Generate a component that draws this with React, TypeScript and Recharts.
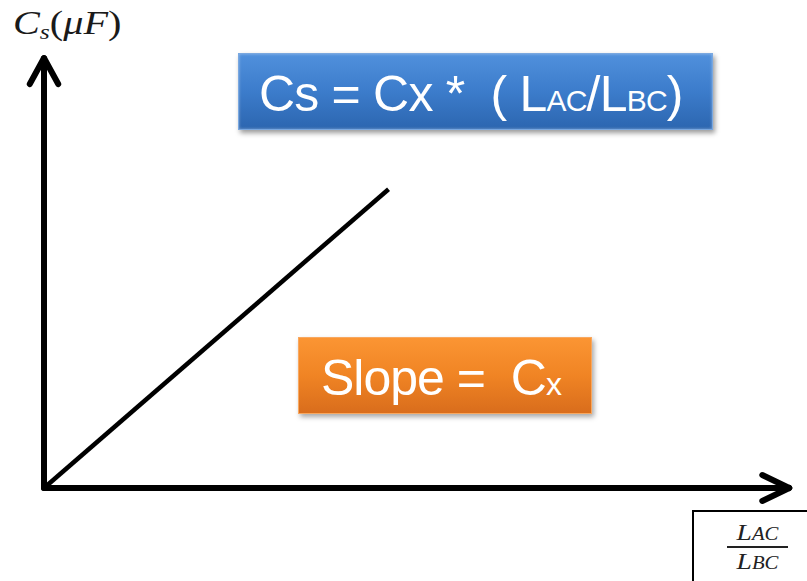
import React from 'react';
import { LineChart, Line, XAxis, YAxis, ReferenceLine } from 'recharts';

// Data: the single proportional line Cs vs L_AC/L_BC (arbitrary units, axes 0..100)
const ratioValues = [0, 46];
const capValues = [0, 69];
const xDomain: [number, number] = [0, 100];
const yDomain: [number, number] = [0, 100];
const yAxisTitle = 'C';
const formulaText = 'Cs = Cx *  ( L';
const slopeText = 'Slope =  C';

const data = ratioValues.map((r, i) => ({ r, c: capValues[i] }));

const W = 807;
const H = 581;

export default function App() {
  const axisStyle = { stroke: '#000', strokeWidth: 6, strokeLinecap: 'round' as const };
  return (
    <div style={{ position: 'absolute', left: 0, top: 0, width: W, height: H, background: '#fff', overflow: 'hidden' }}>
      <LineChart width={W} height={H} data={data} margin={{ top: 55, left: 44, right: 14, bottom: 93 }}>
        <XAxis type="number" dataKey="r" domain={xDomain} hide />
        <YAxis type="number" dataKey="c" domain={yDomain} hide />
        {/* x axis with arrow */}
        <ReferenceLine segment={[{ x: 0, y: 0 }, { x: 99.3, y: 0 }]} ifOverflow="visible" {...axisStyle} />
        <ReferenceLine segment={[{ x: 99.5, y: 0 }, { x: 95.9, y: 3.0 }]} ifOverflow="visible" {...axisStyle} />
        <ReferenceLine segment={[{ x: 99.5, y: 0 }, { x: 95.9, y: -3.0 }]} ifOverflow="visible" {...axisStyle} />
        {/* y axis with arrow */}
        <ReferenceLine segment={[{ x: 0, y: 0 }, { x: 0, y: 99 }]} ifOverflow="visible" {...axisStyle} />
        <ReferenceLine segment={[{ x: 0, y: 99.3 }, { x: -1.9, y: 93.3 }]} ifOverflow="visible" {...axisStyle} />
        <ReferenceLine segment={[{ x: 0, y: 99.3 }, { x: 1.9, y: 93.3 }]} ifOverflow="visible" {...axisStyle} />
        <Line
          type="linear"
          dataKey="c"
          stroke="#000"
          strokeWidth={4.5}
          dot={false}
          isAnimationActive={false}
        />
      </LineChart>

      {/* Y axis title */}
      <div
        style={{
          position: 'absolute',
          left: 13,
          top: 7,
          fontFamily: '"Liberation Serif", serif',
          fontSize: 33,
          lineHeight: 1,
          color: '#1a1a1a',
          whiteSpace: 'pre',
          transform: 'scaleX(1.22)',
          transformOrigin: 'left top',
        }}
      >
        <i>{yAxisTitle}</i>
        <i style={{ fontSize: 21, position: 'relative', top: 5 }}>s</i>
        (<i>μF</i>)
      </div>

      {/* Blue formula box */}
      <div
        style={{
          position: 'absolute',
          left: 238,
          top: 53,
          width: 475,
          height: 77,
          boxSizing: 'border-box',
          background: 'linear-gradient(to bottom, #5090dc 0%, #3c7ccb 50%, #2c66b0 100%)',
          border: '1px solid #7aa8e0',
          boxShadow: '2px 3px 5px rgba(0,0,0,0.4), inset 0 0 3px rgba(255,255,255,0.4)',
        }}
      >
        <div
          style={{
            position: 'absolute',
            left: 20,
            top: 15,
            fontFamily: '"Liberation Sans", Arial, sans-serif',
            fontSize: 50,
            lineHeight: 1,
            color: '#fff',
            whiteSpace: 'pre',
            letterSpacing: -0.8,
          }}
        >
          {formulaText}
          <span style={{ fontSize: 30 }}>AC</span>/L<span style={{ fontSize: 30 }}>BC</span>)
        </div>
      </div>

      {/* Orange slope box */}
      <div
        style={{
          position: 'absolute',
          left: 298,
          top: 337,
          width: 294,
          height: 77,
          boxSizing: 'border-box',
          background: 'linear-gradient(to bottom, #fb9533 0%, #f08424 50%, #d96d1c 100%)',
          border: '1px solid #f8a860',
          boxShadow: '2px 3px 5px rgba(0,0,0,0.35)',
        }}
      >
        <div
          style={{
            position: 'absolute',
            left: 22,
            top: 15,
            fontFamily: '"Liberation Sans", Arial, sans-serif',
            fontSize: 50,
            lineHeight: 1,
            color: '#fff',
            whiteSpace: 'pre',
            letterSpacing: -1,
          }}
        >
          {slopeText}
          <span style={{ fontSize: 32 }}>x</span>
        </div>
      </div>

      {/* bottom-right x axis title box */}
      <div
        style={{
          position: 'absolute',
          left: 692,
          top: 510,
          width: 115,
          height: 71,
          boxSizing: 'border-box',
          borderTop: '2px solid #000',
          borderLeft: '2px solid #000',
        }}
      >
        <div
          style={{
            position: 'absolute',
            left: 33,
            top: 8,
            width: 61,
            fontFamily: '"Liberation Serif", serif',
            fontStyle: 'italic',
            color: '#222',
            textAlign: 'center',
            lineHeight: 1,
          }}
        >
          <div style={{ fontSize: 24, paddingBottom: 2, transform: 'scaleX(1.15)' }}>
            L<span style={{ fontSize: 18 }}>AC</span>
          </div>
          <div style={{ borderTop: '2px solid #222' }} />
          <div style={{ fontSize: 24, paddingTop: 1, transform: 'scaleX(1.15)' }}>
            L<span style={{ fontSize: 18 }}>BC</span>
          </div>
        </div>
      </div>
    </div>
  );
}
